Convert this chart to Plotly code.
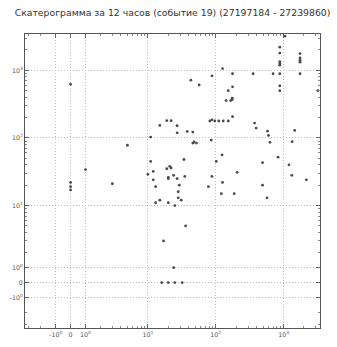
import numpy as np
import plotly.graph_objects as go

# Interval pairs (current, next) collected over the 12-hour window
x_vals = [0, 1, 0, 0, 0, 3, 43, 57, 88, 15, 19, 22, 27, 27, 38, 46, 82, 88, 97, 111,
          129, 153, 11, 5, 48, 52, 46, 86, 11, 34, 102, 21, 22, 19, 12, 10, 24, 20, 20, 27,
          35, 12, 88, 13, 29, 28, 28, 31, 15, 13, 20, 25, 78, 36, 17, 24, 16, 20, 25, 32,
          1050, 880, 880, 880, 880, 880, 1750, 1750, 1750, 1750, 126, 177, 356, 700, 880, 1750,
          177, 880, 880, 3200, 153, 142, 166, 175, 175, 177, 374, 394, 580, 600,
          630, 1460, 1340, 124, 490, 830, 207, 1200, 1320, 2170, 126, 121, 187, 490, 570]
y_vals = [620, 34, 22, 19, 17, 21, 714, 606, 830, 153, 180, 180, 152, 119, 125, 122, 178, 185, 178, 178,
          178, 178, 103, 78, 87, 84, 84, 93, 45, 48, 45, 38, 36, 35, 32, 29, 28, 26, 25, 25,
          27, 24, 27, 19, 20, 16, 13, 12, 12, 11, 11, 10, 19, 5, 3, 1, 0, 0, 0, 0,
          3200, 2200, 1800, 1340, 1260, 1190, 1770, 1520, 1410, 1320, 1060, 890, 890, 890, 890, 890,
          570, 590, 500, 500, 500, 357, 357, 386, 370, 206, 166, 140, 126, 109,
          86, 129, 88, 56, 43, 52, 31, 40, 28, 24, 22, 15, 15, 20, 13]

major_ticks = [-1, 0, 1, 10, 100, 1000]
major_labels = ["-10<sup>0</sup>", "0", "10<sup>0</sup>", "10<sup>1</sup>", "10<sup>2</sup>", "10<sup>3</sup>"]

title_text = "Скатерограмма за 12 часов (событие 19) (27197184 - 27239860)"

# symmetric-log scale: linear inside |v| <= LINTHRESH, logarithmic outside
LINTHRESH = 2.0
LINSPAN = 0.44  # decades occupied by 0..LINTHRESH


def symlog(v):
    v = np.asarray(v, dtype=float)
    a = np.abs(v)
    lin = v * LINSPAN / LINTHRESH
    with np.errstate(divide="ignore"):
        lg = np.sign(v) * (LINSPAN + np.log10(np.where(a > 0, a, 1) / LINTHRESH))
    return np.where(a <= LINTHRESH, lin, lg)


minor_vals = [m * 10 ** k for k in range(0, 4) for m in range(2, 10)] + [-2, -3]
axis_range = [-0.672, 3.676]

fig = go.Figure()
fig.add_trace(go.Scatter(
    x=symlog(x_vals), y=symlog(y_vals), mode="markers",
    marker=dict(size=2.8, color="#4a4a4a", line=dict(width=0)),
    hoverinfo="skip", showlegend=False,
))

axis_style = dict(
    range=axis_range,
    tickmode="array",
    tickvals=list(symlog(major_ticks)),
    ticktext=major_labels,
    ticks="inside", ticklen=4, tickcolor="#666", tickwidth=1,
    showline=True, linecolor="#555", linewidth=1, mirror="allticks",
    showgrid=True, gridcolor="#bdbdbd", griddash="1px,2px", gridwidth=1,
    zeroline=False,
    tickfont=dict(family="DejaVu Sans", size=6.3, color="#555"),
    minor=dict(tickmode="array", tickvals=list(symlog(minor_vals)),
               ticks="inside", ticklen=2, tickcolor="#888", showgrid=False),
)

fig.update_layout(
    width=337, height=347,
    margin=dict(l=25, r=17, t=34, b=9),
    paper_bgcolor="white", plot_bgcolor="white",
    title=dict(text=title_text, x=0.5, xref="paper", xanchor="center",
               y=1 - 13 / 347, yref="container", yanchor="middle",
               font=dict(family="DejaVu Sans", size=9.3, color="#333")),
    xaxis=axis_style,
    yaxis=axis_style,
)

fig.write_html("out.html")
